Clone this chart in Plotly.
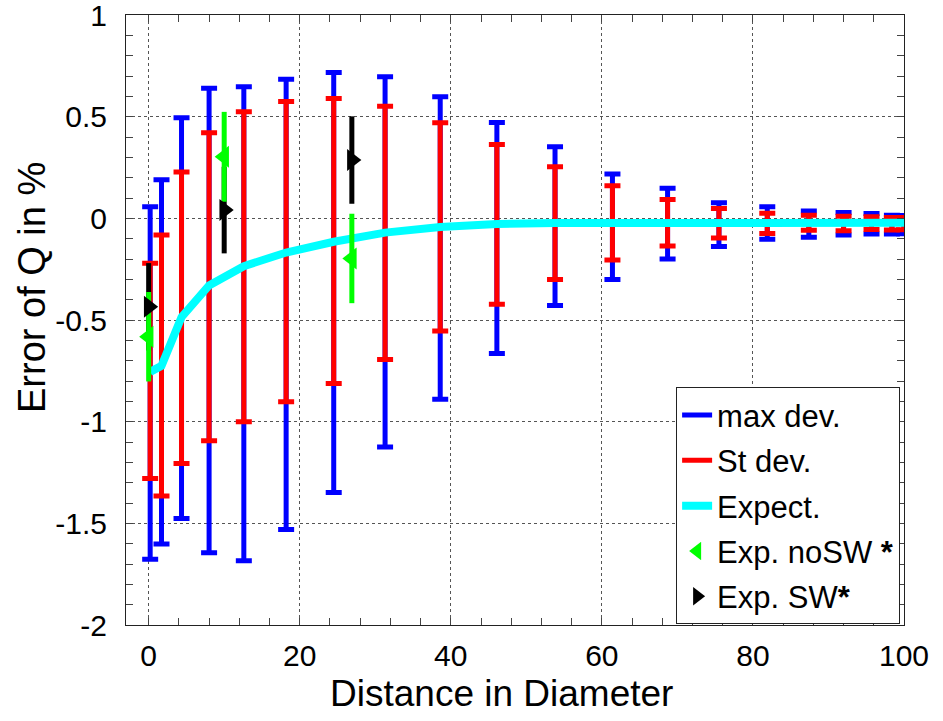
import plotly.graph_objects as go

# ---- data ----
dist = [0.2, 1.7, 4.35, 8.0, 12.6, 18.2, 24.5, 31.3, 38.6, 46.1, 53.8, 61.4,
        68.7, 75.5, 81.9, 87.4, 92.0, 95.7, 98.4, 100.0]
expect = [-0.755, -0.725, -0.486, -0.33, -0.235, -0.168, -0.115, -0.07, -0.042,
          -0.027, -0.023, -0.022, -0.021, -0.022, -0.023, -0.021, -0.022, -0.022,
          -0.023, -0.022]
max_hi = [0.057, 0.19, 0.495, 0.64, 0.647, 0.684, 0.718, 0.697, 0.598, 0.472,
          0.352, 0.218, 0.148, 0.077, 0.057, 0.037, 0.029, 0.024, 0.016, 0.014]
max_lo = [-1.677, -1.602, -1.476, -1.645, -1.684, -1.53, -1.348, -1.125, -0.89,
          -0.664, -0.428, -0.3, -0.2, -0.138, -0.102, -0.093, -0.082, -0.077,
          -0.077, -0.075]
std_hi = [-0.221, -0.082, 0.228, 0.421, 0.524, 0.575, 0.59, 0.552, 0.47, 0.364,
          0.254, 0.16, 0.093, 0.049, 0.025, 0.016, 0.011, 0.008, 0.005, 0.004]
std_lo = [-1.279, -1.366, -1.205, -1.094, -1.0, -0.902, -0.812, -0.694, -0.554,
          -0.422, -0.3, -0.205, -0.136, -0.097, -0.074, -0.058, -0.061, -0.054,
          -0.057, -0.056]

exp_x = [0.0, 10.0, 26.9]
nosw_y = [-0.582, 0.303, -0.197]
nosw_err = [0.22, 0.221, 0.22]
sw_y = [-0.435, 0.041, 0.287]
sw_err = [0.215, 0.213, 0.215]

y_ticks = [-2, -1.5, -1, -0.5, 0, 0.5, 1]
y_ticktext = ["-2", "-1.5", "-1", "-0.5", "0", "0.5", "1"]
x_ticks = [0, 20, 40, 60, 80, 100]

legend_names = ["max dev.", "St dev.", "Expect.", "Exp. noSW <b>*</b>", "Exp. SW<b>*</b>"]
x_title = "Distance in Diameter"
y_title = "Error of Q in %"

BLUE, RED, CYAN, GREEN, BLACK = "#0000FF", "#FF0000", "#00FFFF", "#00FF00", "#000000"
FONT = "Liberation Sans, Arial, sans-serif"

fig = go.Figure()

def errbar_trace(yc, hi, lo, color, thick, width):
    plus = [h - c for h, c in zip(hi, yc)]
    minus = [c - l for c, l in zip(yc, lo)]
    return go.Scatter(
        x=dist, y=yc, mode="markers",
        marker=dict(size=1, color="rgba(0,0,0,0)"),
        error_y=dict(type="data", symmetric=False, array=plus, arrayminus=minus,
                     color=color, thickness=thick, width=width),
        showlegend=False, hoverinfo="skip")

fig.add_trace(errbar_trace(expect, max_hi, max_lo, BLUE, 5, 8))
fig.add_trace(errbar_trace(expect, std_hi, std_lo, RED, 5, 8))

fig.add_trace(go.Scatter(x=dist, y=expect, mode="lines",
                         line=dict(color=CYAN, width=8), name=legend_names[2],
                         legendrank=3))

# SW error bars (below noSW)
fig.add_trace(go.Scatter(x=exp_x, y=sw_y, mode="markers",
                         marker=dict(size=1, color="rgba(0,0,0,0)"),
                         error_y=dict(type="data", array=sw_err, color=BLACK,
                                      thickness=5, width=0),
                         showlegend=False))
fig.add_trace(go.Scatter(x=exp_x, y=nosw_y, mode="markers",
                         marker=dict(symbol="triangle-left", size=19, color=GREEN),
                         error_y=dict(type="data", array=nosw_err, color=GREEN,
                                      thickness=5, width=0),
                         name=legend_names[3], legendrank=4))
fig.add_trace(go.Scatter(x=exp_x, y=sw_y, mode="markers",
                         marker=dict(symbol="triangle-right", size=19, color=BLACK),
                         name=legend_names[4], legendrank=5))

# legend-only line entries
fig.add_trace(go.Scatter(x=[None], y=[None], mode="lines",
                         line=dict(color=BLUE, width=5), name=legend_names[0],
                         legendrank=1))
fig.add_trace(go.Scatter(x=[None], y=[None], mode="lines",
                         line=dict(color=RED, width=5), name=legend_names[1],
                         legendrank=2))

for i, tr in enumerate(fig.data):
    tr.legendgroup = "g%d" % i

axis_common = dict(
    showline=True, linecolor="#222222", linewidth=1, mirror="ticks",
    ticks="inside", ticklen=7, tickcolor="#444444",
    showgrid=True, gridcolor="#555555", griddash="dot", gridwidth=1,
    zeroline=False, tickfont=dict(family=FONT, size=30, color="black"),
    ticklabeloverflow="allow", automargin=False,
)

fig.update_xaxes(range=[-3, 100], tickvals=x_ticks, ticklabelstandoff=4,
                 minor=dict(dtick=4, tick0=0, ticks="inside", ticklen=7,
                            tickcolor="#444444", showgrid=False),
                 **axis_common)
fig.update_yaxes(range=[-2, 1.0005], tickvals=y_ticks, ticktext=y_ticktext,
                 ticklabelstandoff=12,
                 minor=dict(dtick=0.1, tick0=0, ticks="inside", ticklen=7,
                            tickcolor="#444444", showgrid=False),
                 **axis_common)

fig.add_annotation(text=x_title, xref="paper", yref="paper",
                   x=(501 - 126) / 778, y=-(693 - 625) / 610,
                   xanchor="center", yanchor="middle", showarrow=False,
                   font=dict(family=FONT, size=37, color="black"))
fig.add_annotation(text=y_title, xref="paper", yref="paper",
                   x=-(126 - 32) / 778, y=(625 - 288) / 610, textangle=-90,
                   xanchor="center", yanchor="middle", showarrow=False,
                   font=dict(family=FONT, size=38, color="black"))

fig.update_layout(
    width=943, height=721,
    margin=dict(l=126, r=39, t=15, b=96, autoexpand=False),
    plot_bgcolor="white", paper_bgcolor="white",
    legend=dict(x=0.995, y=0.001, xanchor="right", yanchor="bottom",
                bgcolor="white", bordercolor="#222222", borderwidth=1,
                font=dict(family=FONT, size=31, color="black"),
                tracegroupgap=2, itemwidth=30),
    showlegend=True,
)

fig.write_html("out.html")
